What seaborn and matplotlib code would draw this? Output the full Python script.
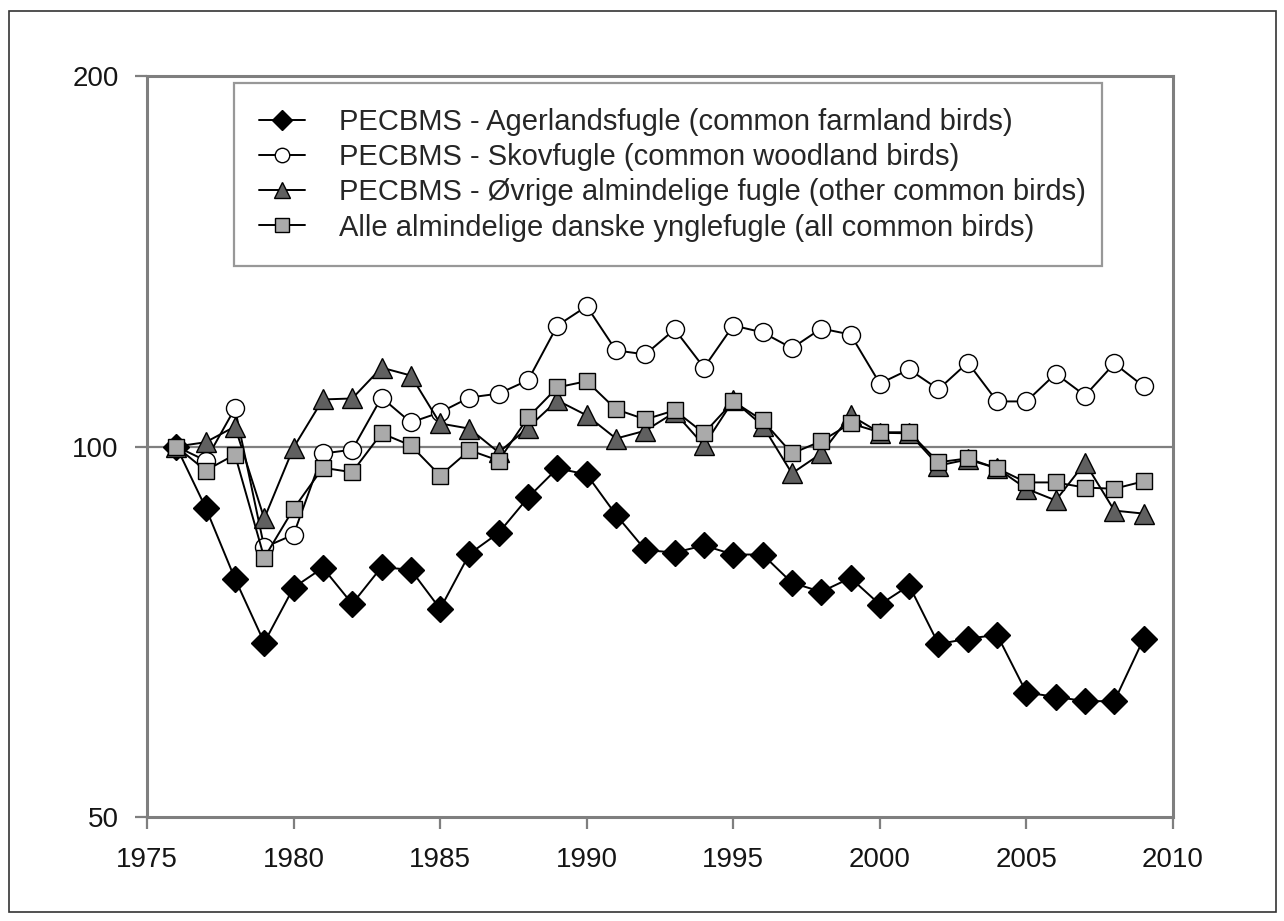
import numpy as np
import pandas as pd
import matplotlib
matplotlib.use("Agg")
import matplotlib.pyplot as plt
import seaborn as sns
from matplotlib.ticker import FixedLocator, FixedFormatter, NullLocator
from matplotlib.patches import Rectangle

years = list(range(1976, 2010))

farmland = [100, 89.2, 78.1, 69.3, 76.8, 79.7, 74.5, 79.8, 79.4, 73.8,
            81.8, 85.1, 90.9, 96.0, 94.9, 88.0, 82.4, 82.0, 83.1, 81.7,
            81.7, 77.5, 76.2, 78.2, 74.4, 77.1, 69.1, 69.8, 70.3, 63.1,
            62.6, 62.1, 62.1, 69.8]
woodland = [100, 97.4, 107.4, 82.8, 84.8, 98.7, 99.4, 109.6, 104.6, 106.6,
            109.6, 110.4, 113.2, 125.4, 130.0, 119.7, 118.8, 124.5, 115.9, 125.4,
            123.8, 120.2, 124.7, 123.3, 112.5, 115.5, 111.3, 117.0, 108.8, 108.8,
            114.6, 110.0, 116.8, 111.9]
other = [100, 100.8, 103.8, 87.4, 99.8, 109.2, 109.4, 115.9, 114.2, 104.4,
         103.4, 98.9, 103.6, 109.0, 106.0, 101.5, 103.0, 106.6, 100.2, 109.0,
         104.0, 95.1, 98.7, 106.0, 102.6, 102.5, 96.5, 97.6, 96.0, 92.4,
         90.4, 97.0, 88.7, 88.2]
allbirds = [100, 95.6, 98.5, 81.2, 89.0, 96.1, 95.3, 102.5, 100.2, 94.7,
            99.3, 97.4, 105.6, 111.7, 113.0, 107.2, 105.2, 107.0, 102.5, 108.8,
            105.0, 98.7, 101.0, 104.4, 102.7, 102.7, 97.1, 97.8, 96.0, 93.5,
            93.5, 92.6, 92.4, 93.7]

labels = ["PECBMS - Agerlandsfugle (common farmland birds)",
          "PECBMS - Skovfugle (common woodland birds)",
          "PECBMS - Øvrige almindelige fugle (other common birds)",
          "Alle almindelige danske ynglefugle (all common birds)"]
x_ticks = [1975, 1980, 1985, 1990, 1995, 2000, 2005, 2010]
y_ticks = [50, 100, 200]

sns.set_theme(style="white")
plt.rcParams['font.family'] = ['Liberation Sans', 'DejaVu Sans']

fig = plt.figure(figsize=(12.84, 9.21), dpi=100)
ax = fig.add_axes([147/1284, 1-817/921, (1173-147)/1284, (817-76)/921])

gray = "#7f7f7f"
ax.axhline(100, color=gray, lw=1.6, zorder=1)

styles = [
    dict(marker="D", mfc="black", ms=13),
    dict(marker="o", mfc="white", ms=13),
    dict(marker="^", mfc="#606060", ms=14),
    dict(marker="s", mfc="#aaaaaa", ms=12),
]
series = [farmland, woodland, other, allbirds]
for vals, lab, st in zip(series, labels, styles):
    df = pd.DataFrame({"year": years, "value": vals})
    sns.lineplot(data=df, x="year", y="value", ax=ax, color="black", lw=1.4,
                 marker=st["marker"], markersize=st["ms"],
                 markerfacecolor=st["mfc"], markeredgecolor="black",
                 markeredgewidth=1.0, label=lab, zorder=3)

ax.set_yscale("log")
ax.set_ylim(50, 200)
ax.set_xlim(1975, 2010)
ax.yaxis.set_major_locator(FixedLocator(y_ticks))
ax.yaxis.set_major_formatter(FixedFormatter([str(v) for v in y_ticks]))
ax.yaxis.set_minor_locator(NullLocator())
ax.xaxis.set_major_locator(FixedLocator(x_ticks))
ax.xaxis.set_major_formatter(FixedFormatter([str(v) for v in x_ticks]))
ax.set_xlabel("")
ax.set_ylabel("")

for sp in ax.spines.values():
    sp.set_visible(True)
    sp.set_color(gray)
    sp.set_linewidth(2.2)

ax.tick_params(axis="both", which="major", direction="out", length=8.5, width=1.6,
               color=gray, labelsize=20, labelcolor="#151515")
ax.tick_params(axis="x", pad=13, bottom=True)
ax.tick_params(axis="y", pad=12, left=True)

leg = ax.legend(loc="upper left", bbox_to_anchor=(0.0848, 0.745, 0.846, 0.2456),
                mode="expand",
                borderaxespad=0, fontsize=21, frameon=True, fancybox=False,
                edgecolor=gray, markerscale=0.8, handlelength=1.6,
                labelspacing=0.25, borderpad=0.85, handletextpad=1.15)
leg.get_frame().set_linewidth(1.6)

fig.patches.append(Rectangle((9/1284, 1-912/921), (1276-9)/1284, (912-11)/921,
                             transform=fig.transFigure, fill=False,
                             edgecolor="#333333", lw=1.2))

fig.savefig("out.png", dpi=100)
